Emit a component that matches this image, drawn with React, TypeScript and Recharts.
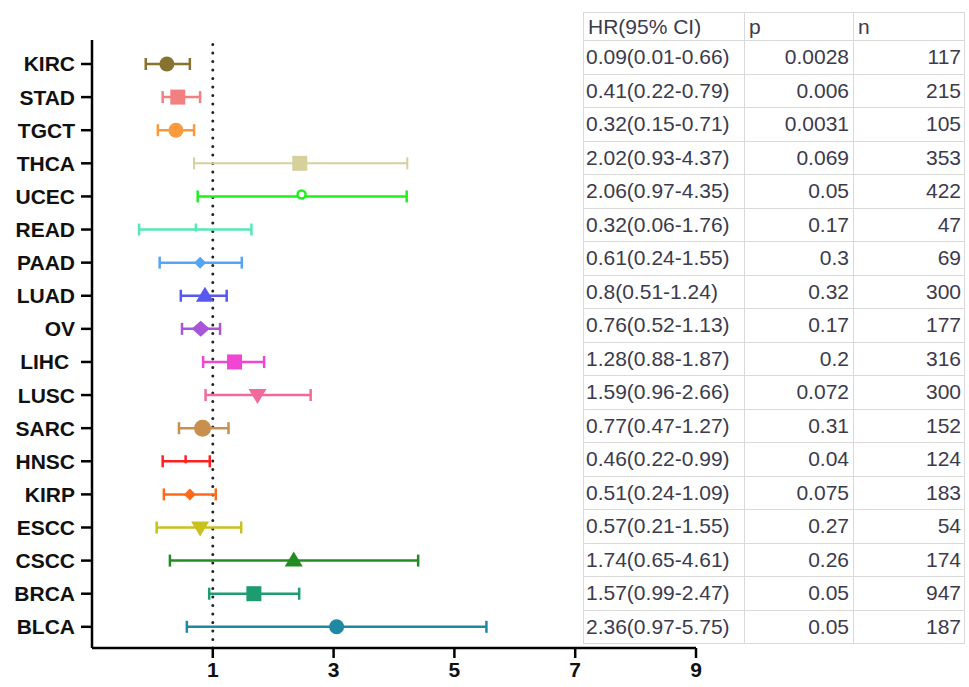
import React from "react";
import {
  ScatterChart,
  Scatter,
  XAxis,
  YAxis,
  ErrorBar,
  ReferenceLine,
} from "recharts";

// values (x scale), top row first
const cancers = [
  "KIRC", "STAD", "TGCT", "THCA", "UCEC", "READ", "PAAD", "LUAD", "OV",
  "LIHC\u00a0", "LUSC", "SARC", "HNSC", "KIRP", "ESCC", "CSCC", "BRCA", "BLCA",
];
const hrPoint = [0.24, 0.42, 0.39, 2.44, 2.47, 0.72, 0.79, 0.87, 0.8, 1.36, 1.74, 0.83, 0.55, 0.62, 0.79, 2.34, 1.68, 3.05];
const ciLow = [-0.11, 0.17, 0.09, 0.69, 0.75, -0.22, 0.12, 0.47, 0.49, 0.84, 0.88, 0.44, 0.17, 0.19, 0.07, 0.29, 0.94, 0.57];
const ciHigh = [0.62, 0.79, 0.69, 4.22, 4.21, 1.64, 1.48, 1.23, 1.12, 1.85, 2.62, 1.26, 0.95, 1.05, 1.47, 4.4, 2.43, 5.53];

// table columns on the right
const hrText = [
  "0.09(0.01-0.66)", "0.41(0.22-0.79)", "0.32(0.15-0.71)", "2.02(0.93-4.37)",
  "2.06(0.97-4.35)", "0.32(0.06-1.76)", "0.61(0.24-1.55)", "0.8(0.51-1.24)",
  "0.76(0.52-1.13)", "1.28(0.88-1.87)", "1.59(0.96-2.66)", "0.77(0.47-1.27)",
  "0.46(0.22-0.99)", "0.51(0.24-1.09)", "0.57(0.21-1.55)", "1.74(0.65-4.61)",
  "1.57(0.99-2.47)", "2.36(0.97-5.75)",
];
const pText = ["0.0028", "0.006", "0.0031", "0.069", "0.05", "0.17", "0.3", "0.32", "0.17", "0.2", "0.072", "0.31", "0.04", "0.075", "0.27", "0.26", "0.05", "0.05"];
const nText = ["117", "215", "105", "353", "422", "47", "69", "300", "177", "316", "300", "152", "124", "183", "54", "174", "947", "187"];

const xTicks = [1, 3, 5, 7, 9];

const colors = [
  "#86732f", "#f28080", "#fa9a3c", "#d6d09c", "#1ef01e", "#55e8b5",
  "#55a5f5", "#5858f0", "#a855d8", "#f046d2", "#f2699e", "#c98f4c",
  "#ff1f1f", "#ff6a1a", "#c9c11e", "#228c22", "#1f9c6f", "#1f88a2",
];
const markers = [
  "circle", "square", "circle", "square", "ring", "tick", "smallDiamond", "triangle", "diamond",
  "square", "down", "bigCircle", "tick", "smallDiamond", "down", "triangle", "square", "circle",
];

const rows = cancers.map((name, i) => ({
  name,
  idx: i,
  hr: hrPoint[i],
  err: [hrPoint[i] - ciLow[i], ciHigh[i] - hrPoint[i]],
}));

function Marker(props: any) {
  const { cx, cy, kind, color } = props;
  if (cx == null || cy == null) return null;
  switch (kind) {
    case "circle":
      return <circle cx={cx} cy={cy} r={7.5} fill={color} />;
    case "bigCircle":
      return <circle cx={cx} cy={cy} r={8.5} fill={color} />;
    case "ring":
      return <circle cx={cx} cy={cy - 2} r={4} fill="#fff" stroke={color} strokeWidth={2.5} />;
    case "square":
      return <rect x={cx - 7.5} y={cy - 7.5} width={15} height={15} fill={color} />;
    case "triangle":
      return <polygon points={`${cx},${cy - 9} ${cx + 9},${cy + 6} ${cx - 9},${cy + 6}`} fill={color} />;
    case "down":
      return <polygon points={`${cx - 9},${cy - 6} ${cx + 9},${cy - 6} ${cx},${cy + 9}`} fill={color} />;
    case "diamond":
      return <polygon points={`${cx},${cy - 8} ${cx + 9},${cy} ${cx},${cy + 8} ${cx - 9},${cy}`} fill={color} />;
    case "smallDiamond":
      return <polygon points={`${cx},${cy - 6} ${cx + 6},${cy} ${cx},${cy + 6} ${cx - 6},${cy}`} fill={color} />;
    case "tick":
      return <line x1={cx} y1={cy - 6} x2={cx} y2={cy + 2} stroke={color} strokeWidth={2.5} />;
    default:
      return null;
  }
}

const axisFont = { fill: "#111", fontSize: 21, fontWeight: 700, fontFamily: "Liberation Sans, Arial, sans-serif" };

const cell: React.CSSProperties = {
  border: "1.5px solid #d9d9d9",
  padding: "0 4px",
  whiteSpace: "nowrap",
  overflow: "hidden",
};

function StatsTable() {
  return (
    <table
      style={{
        position: "absolute",
        left: 583,
        top: 12,
        width: 381,
        borderCollapse: "collapse",
        background: "#fff",
        fontFamily: "Liberation Sans, Arial, sans-serif",
        fontSize: 21,
        color: "#3b3b4d",
        tableLayout: "fixed",
      }}
    >
      <colgroup>
        <col style={{ width: 161 }} />
        <col style={{ width: 109 }} />
        <col style={{ width: 111 }} />
      </colgroup>
      <tbody>
        <tr style={{ height: 28 }}>
          <td style={{ ...cell, textAlign: "left" }}>HR(95% CI)</td>
          <td style={{ ...cell, textAlign: "left" }}>p</td>
          <td style={{ ...cell, textAlign: "left" }}>n</td>
        </tr>
        {hrText.map((t, i) => (
          <tr key={i} style={{ height: 33.5 }}>
            <td style={{ ...cell, textAlign: "left", padding: "0 2px" }}>{t}</td>
            <td style={{ ...cell, textAlign: "right" }}>{pText[i]}</td>
            <td style={{ ...cell, textAlign: "right", paddingRight: 3 }}>{nText[i]}</td>
          </tr>
        ))}
      </tbody>
    </table>
  );
}

export default function App() {
  return (
    <div style={{ position: "absolute", left: 0, top: 0, width: 969, height: 687, background: "#fff" }}>
      <ScatterChart width={710} height={687} margin={{ top: 40, right: 14, left: 0, bottom: 0 }}>
        <XAxis
          type="number"
          dataKey="hr"
          domain={[-1, 9]}
          ticks={xTicks}
          allowDataOverflow
          height={39}
          tick={axisFont}
          tickSize={10}
          tickMargin={4}
          axisLine={{ stroke: "#000", strokeWidth: 2.5 }}
          tickLine={{ stroke: "#000", strokeWidth: 2.5 }}
        />
        <YAxis
          type="number"
          dataKey="idx"
          reversed
          domain={[-0.725, 17.64]}
          allowDataOverflow
          ticks={cancers.map((_, i) => i)}
          interval={0}
          tickFormatter={(v: number) => cancers[v] ?? ""}
          width={92}
          tick={axisFont}
          tickSize={11}
          tickMargin={6}
          axisLine={{ stroke: "#000", strokeWidth: 2.5 }}
          tickLine={{ stroke: "#000", strokeWidth: 2.5 }}
        />
        <ReferenceLine
          x={1}
          stroke="#222"
          strokeWidth={3}
          strokeDasharray="0.1 8.4"
          strokeLinecap="round"
        />
        {rows.map((r, i) => (
          <Scatter
            key={r.name}
            data={[r]}
            fill={colors[i]}
            isAnimationActive={false}
            shape={(p: any) => <Marker {...p} kind={markers[i]} color={colors[i]} />}
          >
            <ErrorBar
              dataKey="err"
              direction="x"
              width={6}
              stroke={colors[i]}
              strokeWidth={i === 3 ? 2 : 2.5}
              isAnimationActive={false}
            />
          </Scatter>
        ))}
      </ScatterChart>
      <StatsTable />
    </div>
  );
}
